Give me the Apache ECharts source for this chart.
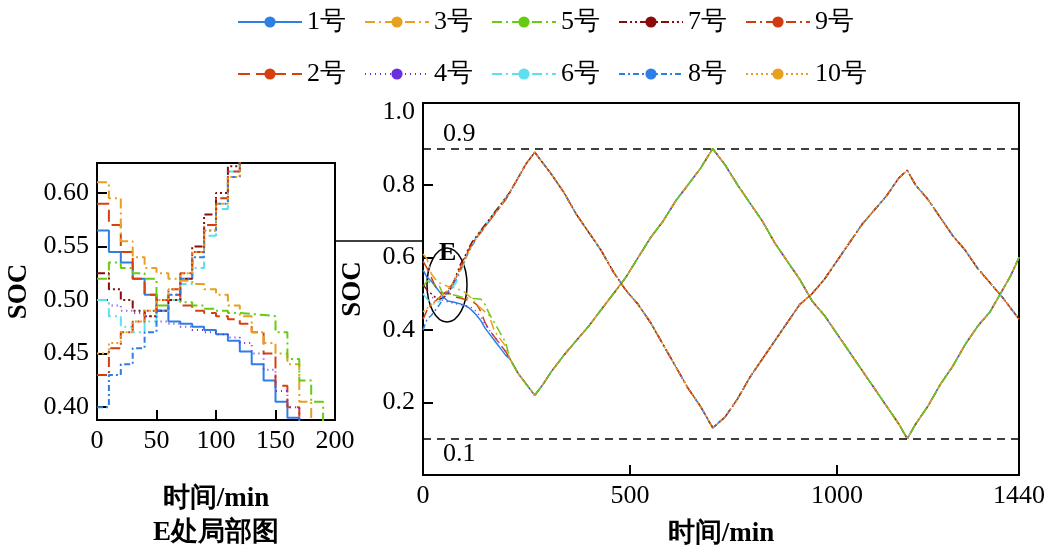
<!DOCTYPE html>
<html>
<head>
<meta charset="UTF-8">
<script src="https://cdn.jsdelivr.net/npm/echarts@6/dist/echarts.min.js"></script>
<style>body{margin:0;background:#fff}#c{width:1056px;height:554px}</style>
</head>
<body>
<div id="c"></div>
<script>
// first 200 min, every 10 min
var headT = [0,10,20,30,40,50,60,70,80,90,100,110,120,130,140,150,160,170,180,190,200];
var head1 = [0.565,0.545,0.535,0.52,0.505,0.49,0.48,0.478,0.475,0.472,0.468,0.462,0.452,0.44,0.425,0.405,0.39,0.375,0.36,0.345,0.33];
var head2 = [0.59,0.57,0.545,0.52,0.505,0.5,0.505,0.495,0.49,0.488,0.485,0.482,0.478,0.47,0.45,0.42,0.40,0.385,0.37,0.355,0.34];
var head3 = [0.61,0.595,0.555,0.54,0.53,0.525,0.52,0.518,0.515,0.51,0.505,0.495,0.485,0.47,0.46,0.45,0.44,0.405,0.385,0.37,0.355];
var head4 = [0.5,0.495,0.49,0.488,0.485,0.48,0.478,0.475,0.472,0.47,0.468,0.465,0.46,0.45,0.435,0.415,0.40,0.385,0.37,0.355,0.34];
var head5 = [0.52,0.535,0.53,0.525,0.52,0.495,0.5,0.498,0.495,0.492,0.49,0.488,0.487,0.486,0.485,0.47,0.445,0.425,0.405,0.385,0.365];
var head6 = [0.5,0.485,0.475,0.47,0.48,0.49,0.5,0.515,0.53,0.56,0.585,0.62,0.64,0.66,0.675,0.69,0.705,0.72,0.735,0.75,0.765];
var head7 = [0.525,0.51,0.5,0.49,0.485,0.49,0.5,0.52,0.55,0.58,0.6,0.625,0.645,0.66,0.675,0.69,0.705,0.72,0.735,0.75,0.765];
var head8 = [0.40,0.43,0.44,0.455,0.47,0.49,0.505,0.52,0.54,0.565,0.59,0.615,0.635,0.655,0.67,0.685,0.7,0.715,0.73,0.745,0.76];
var head9 = [0.43,0.455,0.47,0.48,0.49,0.5,0.51,0.525,0.545,0.57,0.595,0.62,0.64,0.655,0.67,0.685,0.7,0.715,0.73,0.745,0.76];
var head10 = [0.45,0.46,0.47,0.48,0.49,0.5,0.51,0.525,0.545,0.565,0.59,0.615,0.635,0.655,0.67,0.685,0.7,0.715,0.73,0.745,0.76];

// rest of the day, shared by each group
var tailT = [210,230,250,270,290,310,340,370,400,430,460,490,520,550,580,610,640,670,700,730,760,790,820,850,880,910,940,970,1000,1030,1060,1090,1120,1150,1170,1190,1220,1250,1280,1310,1340,1370,1400,1420,1440];
var tailDown = [0.32,0.28,0.25,0.22,0.25,0.285,0.33,0.37,0.41,0.455,0.5,0.545,0.6,0.655,0.7,0.755,0.8,0.845,0.9,0.855,0.8,0.75,0.7,0.64,0.59,0.54,0.48,0.44,0.39,0.34,0.29,0.24,0.19,0.14,0.1,0.14,0.19,0.25,0.3,0.36,0.41,0.45,0.51,0.55,0.6];
var tailUp = [0.78,0.82,0.86,0.89,0.86,0.83,0.78,0.72,0.67,0.62,0.56,0.51,0.47,0.42,0.36,0.3,0.24,0.19,0.13,0.16,0.21,0.27,0.32,0.37,0.42,0.47,0.5,0.54,0.59,0.64,0.69,0.73,0.77,0.82,0.84,0.8,0.76,0.71,0.66,0.62,0.57,0.53,0.49,0.46,0.43];

var names = ['1号','2号','3号','4号','5号','6号','7号','8号','9号','10号'];
var heads = [head1,head2,head3,head4,head5,head6,head7,head8,head9,head10];
var colors = ['#2d7fe6','#d6400f','#e8a020','#6a30e0','#66cc11','#5ce0f0','#8b0a0a','#2d7fe6','#d23a10','#e8a020'];
var dashes = ['solid',[12,6],[10,4,2,4],[1,4],[10,4,2,4],[10,4,2,4],[8,3,2,3,2,3],[6,3,2,3],[10,4,2,4],[2,3]];

function build(i) {
    var d = [];
    for (var k = 0; k < headT.length; k++) d.push([headT[k], heads[i][k]]);
    var tail = i < 5 ? tailDown : tailUp;
    for (var k = 0; k < tailT.length; k++) d.push([tailT[k], tail[k]]);
    return d;
}

var font = 'Liberation Serif';
var series = [];
for (var i = 0; i < 10; i++) {
    var d = build(i);
    series.push({name: names[i], type: 'line', data: d, symbol: 'none', xAxisIndex: 0, yAxisIndex: 0,
        lineStyle: {color: colors[i], width: 1.5, type: dashes[i]}, itemStyle: {color: colors[i]},
        markLine: i == 0 ? {silent: true, symbol: 'none',
            lineStyle: {color: '#000', type: [8,6], width: 1.5},
            label: {fontFamily: font, fontSize: 26, color: '#000', distance: [20, 2]},
            data: [{yAxis: 0.9, label: {position: 'insideStartTop', formatter: '0.9'}},
                   {yAxis: 0.1, label: {position: 'insideStartBottom', formatter: '0.1'}}]} : undefined});
    series.push({name: names[i], type: 'line', data: d, symbol: 'none', xAxisIndex: 1, yAxisIndex: 1,
        step: 'end', lineStyle: {color: colors[i], width: 2, type: dashes[i]}, itemStyle: {color: colors[i]}});
}

var axisLine = {show: true, lineStyle: {color: '#000', width: 2}};
var tick = {inside: true, length: 10, lineStyle: {color: '#000', width: 2}};
var lbl = {fontFamily: font, fontSize: 26, color: '#000'};
var nameStyle = {fontFamily: font, fontSize: 27, fontWeight: 'bold', color: '#000'};
var legText = {fontFamily: font, fontSize: 26, color: '#000'};

var chart = echarts.init(document.getElementById('c'));
chart.setOption({
    animation: false,
    legend: [
        {data: ['1号','3号','5号','7号','9号'], left: 232, top: 4, itemWidth: 64, itemHeight: 14, itemGap: 18, textStyle: legText},
        {data: ['2号','4号','6号','8号','10号'], left: 232, top: 56, itemWidth: 64, itemHeight: 14, itemGap: 18, textStyle: legText}
    ],
    grid: [
        {left: 423, top: 103, width: 596, height: 372, show: true, borderColor: '#000', borderWidth: 2},
        {left: 97, top: 163, width: 238, height: 257, show: true, borderColor: '#000', borderWidth: 2}
    ],
    xAxis: [
        {type: 'value', gridIndex: 0, min: 0, max: 1440, axisLine: axisLine,
         axisTick: {show: true, inside: true, length: 10, lineStyle: {color: '#000', width: 2}, customValues: [500,1000]},
         axisLabel: Object.assign({customValues: [0,500,1000,1440], formatter: function (v) { return String(v); }}, lbl),
         splitLine: {show: false},
         name: '时间/min', nameLocation: 'middle', nameGap: 46, nameTextStyle: nameStyle},
        {type: 'value', gridIndex: 1, min: 0, max: 200, interval: 50, axisLine: axisLine, axisTick: tick,
         axisLabel: lbl, splitLine: {show: false},
         name: '时间/min\nE处局部图', nameLocation: 'middle', nameGap: 62, nameTextStyle: Object.assign({lineHeight: 34}, nameStyle)}
    ],
    yAxis: [
        {type: 'value', gridIndex: 0, min: 0, max: 1.026, axisLine: axisLine,
         axisTick: {show: true, inside: true, length: 10, lineStyle: {color: '#000', width: 2}, customValues: [0.2,0.4,0.6,0.8]},
         axisLabel: Object.assign({customValues: [0.2,0.4,0.6,0.8,1.0], formatter: function (v) { return v.toFixed(1); }}, lbl),
         splitLine: {show: false}, name: 'SOC', nameLocation: 'middle', nameGap: 56, nameTextStyle: nameStyle},
        {type: 'value', gridIndex: 1, min: 0.388, max: 0.628, axisLine: axisLine,
         axisTick: {show: true, inside: true, length: 10, lineStyle: {color: '#000', width: 2}, customValues: [0.40,0.45,0.50,0.55,0.60]},
         axisLabel: Object.assign({customValues: [0.40,0.45,0.50,0.55,0.60], formatter: function (v) { return v.toFixed(2); }}, lbl),
         splitLine: {show: false}, name: 'SOC', nameLocation: 'middle', nameGap: 64, nameTextStyle: nameStyle}
    ],
    graphic: [
        {type: 'line', shape: {x1: 335, y1: 241, x2: 423, y2: 241}, style: {stroke: '#000', lineWidth: 1.5}},
        {type: 'ellipse', shape: {cx: 447, cy: 285, rx: 20, ry: 37}, style: {fill: 'none', stroke: '#000', lineWidth: 1.5}},
        {type: 'text', left: 439, top: 240, style: {text: 'E', font: 'bold 26px "Liberation Serif"', fill: '#000'}}
    ],
    series: series
});
</script>
</body>
</html>
